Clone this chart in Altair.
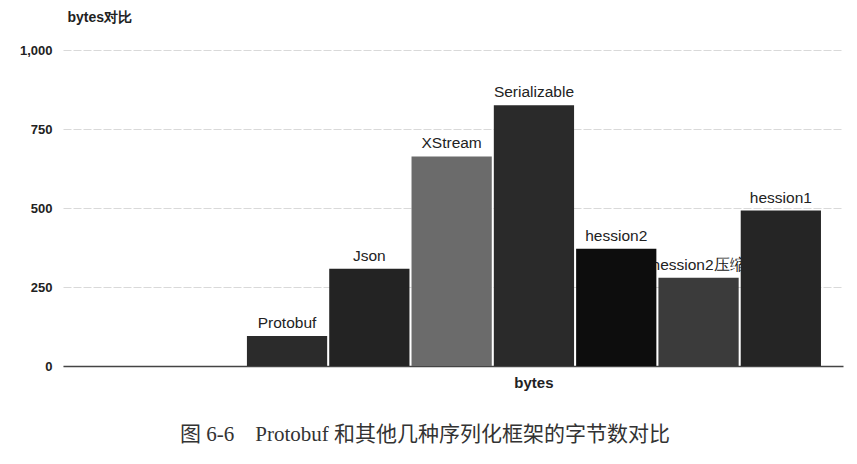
import altair as alt
import pandas as pd

categories = ["bytes"] * 7
series = ["Protobuf", "Json", "XStream", "Serializable", "hession2", "hession2压缩", "hession1"]
values = [95, 308, 663, 825, 371, 279, 492]
colors = ["#2b2b2b", "#232323", "#6b6b6b", "#2a2a2a", "#0d0d0d", "#3b3b3b", "#252525"]
y_ticks = [0, 250, 500, 750, 1000]
caption = "图 6-6\u00a0\u00a0\u00a0\u00a0Protobuf 和其他几种序列化框架的字节数对比"

df = pd.DataFrame({"cat": categories, "series": series, "value": values})

x_enc = alt.X("cat:N", title=None,
              scale=alt.Scale(domain=["bytes"], paddingInner=0, paddingOuter=0.1794, align=0.893),
              axis=alt.Axis(labelAngle=0, labelFont="Liberation Sans", labelFontSize=15,
                            labelColor="#222", labelFontWeight="bold", ticks=False,
                            domainColor="#444", domainWidth=1.5, labelPadding=9))
xoff = alt.XOffset("series:N", scale=alt.Scale(domain=series, paddingInner=0.025, paddingOuter=0))
y_enc = alt.Y("value:Q", scale=alt.Scale(domain=[0, 1000], nice=False),
              axis=alt.Axis(values=y_ticks, format=",.0f", title="bytes对比", titleAngle=0,
                            titleX=4, titleY=-26, titleAlign="left", titleFontSize=14,
                            titleFont="Liberation Sans", titleFontWeight="bold", titleColor="#222",
                            labelFont="Liberation Sans", labelFontSize=13, labelColor="#222",
                            labelFontWeight="bold",
                            domain=False, ticks=False, labelPadding=11,
                            gridColor="#d9d9d9", gridDash=[8, 2]))

text = alt.Chart(df).mark_text(dy=-5, font="Liberation Sans", fontSize=15.5, color="#222",
                               baseline="bottom").encode(
    x=x_enc, xOffset=xoff, y=y_enc, text="series:N")

bars = alt.Chart(df).mark_bar().encode(
    x=x_enc, xOffset=xoff, y=y_enc,
    color=alt.Color("series:N", scale=alt.Scale(domain=series, range=colors), legend=None))

chart = alt.layer(text, bars).properties(
    width=780, height=316,
    autosize=alt.AutoSizeParams(type="none"),
    padding={"left": 55, "top": 42, "right": 6, "bottom": 90},
    title=alt.TitleParams(caption, orient="bottom",
                          anchor="middle", offset=34, dx=-28,
                          font="Liberation Serif, Noto Sans CJK SC", fontSize=21,
                          fontWeight="normal", color="#333")
).configure(background="white").configure_view(stroke=None)

chart.save("out.html", embed_options={"renderer": "svg", "actions": False})
